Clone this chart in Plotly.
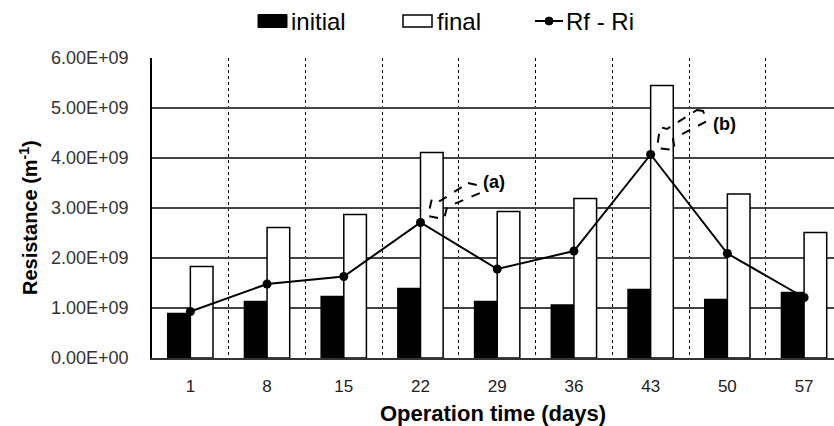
import plotly.graph_objects as go

days = ["1", "8", "15", "22", "29", "36", "43", "50", "57"]
initial = [0.89e9, 1.13e9, 1.23e9, 1.39e9, 1.13e9, 1.06e9, 1.37e9, 1.17e9, 1.31e9]
final = [1.83e9, 2.61e9, 2.87e9, 4.11e9, 2.93e9, 3.19e9, 5.45e9, 3.28e9, 2.51e9]
diff = [0.93e9, 1.48e9, 1.63e9, 2.71e9, 1.78e9, 2.14e9, 4.07e9, 2.09e9, 1.21e9]
ytick_vals = [0, 1e9, 2e9, 3e9, 4e9, 5e9, 6e9]
ytick_text = ["0.00E+00", "1.00E+09", "2.00E+09", "3.00E+09", "4.00E+09", "5.00E+09", "6.00E+09"]
series_names = ["initial", "final", "Rf - Ri"]

SANS = "Liberation Sans, Arial, sans-serif"

fig = go.Figure()
fig.add_trace(go.Bar(x=days, y=initial, name=series_names[0],
                     marker=dict(color="black", line=dict(color="black", width=1.5))))
fig.add_trace(go.Bar(x=days, y=final, name=series_names[1],
                     marker=dict(color="white", line=dict(color="black", width=1.5))))
fig.add_trace(go.Scatter(x=days, y=diff, name=series_names[2], mode="lines+markers",
                         line=dict(color="black", width=2),
                         marker=dict(color="black", size=9)))

# plot area in pixels: x 152..834, y 58..358
L, R, T, B = 152, 834, 58, 358
def px(x, y):
    return (x - L) / (R - L), (B - y) / (B - T)

def poly(points):
    pts = [px(x, y) for x, y in points]
    return "M " + " L ".join(f"{a:.4f},{b:.4f}" for a, b in pts) + " Z"

# dashed block arrows
arrow_a = [(468, 183), (477, 185), (480, 193), (447, 207), (444, 219), (428, 216), (432, 198), (440, 201)]
arrow_b = [(697, 110), (703, 111), (707, 121), (673, 139), (675, 150), (657, 148), (660, 127), (667, 129)]
for arr in (arrow_a, arrow_b):
    fig.add_shape(type="path", path=poly(arr), xref="paper", yref="paper",
                  line=dict(color="black", width=2, dash="dash"), fillcolor="rgba(0,0,0,0)")

for label, (x, y) in (("(a)", (481, 182)), ("(b)", (711, 112))):
    ax, ay = px(x, y)
    fig.add_annotation(x=ax, y=ay, xref="paper", yref="paper", text=f"<b>{label}</b>",
                       showarrow=False, xanchor="left",
                       font=dict(family=SANS, size=18, color="black"))

# legend (drawn manually to match wide rectangular keys)
ly = 21
x0, y0 = px(258, ly - 6.5); x1, y1 = px(287, ly + 6.5)
fig.add_shape(type="rect", xref="paper", yref="paper", x0=x0, x1=x1, y0=y0, y1=y1,
              fillcolor="black", line=dict(color="black", width=1))
x0, y0 = px(403, ly - 6); x1, y1 = px(432, ly + 6)
fig.add_shape(type="rect", xref="paper", yref="paper", x0=x0, x1=x1, y0=y0, y1=y1,
              fillcolor="white", line=dict(color="black", width=1.5))
x0, yy = px(535, ly); x1, _ = px(563, ly)
fig.add_shape(type="line", xref="paper", yref="paper", x0=x0, x1=x1, y0=yy, y1=yy,
              line=dict(color="black", width=2))
cx0, cy0 = px(545, ly - 4); cx1, cy1 = px(553, ly + 4)
fig.add_shape(type="circle", xref="paper", yref="paper", x0=cx0, x1=cx1, y0=cy0, y1=cy1,
              fillcolor="black", line=dict(color="black", width=1))
for name, tx in zip(series_names, (289, 435, 564)):
    ax, ay = px(tx, ly + 1)
    fig.add_annotation(x=ax, y=ay, xref="paper", yref="paper", text=name, showarrow=False,
                       xanchor="left", yanchor="middle",
                       font=dict(family=SANS, size=24, color="black"))

# y-axis title placed to match reference position
tx, ty = px(28, 218)
fig.add_annotation(x=tx, y=ty, xref="paper", yref="paper", textangle=-90,
                   text="<b>Resistance (m<sup>-1</sup>)</b>", showarrow=False,
                   xanchor="center", yanchor="middle",
                   font=dict(family=SANS, size=20, color="black"))

fig.update_layout(
    width=834, height=426,
    margin=dict(l=L, r=834 - R, t=T, b=426 - B),
    paper_bgcolor="white", plot_bgcolor="white",
    barmode="group", bargap=0.41, bargroupgap=0,
    showlegend=False,
    xaxis=dict(type="category", range=[-0.5, 8.39], tickson="boundaries",
               showgrid=True, gridcolor="black", griddash="dot", gridwidth=1,
               showline=True, linecolor="#333", linewidth=1.5,
               ticks="", ticklabelstandoff=12,
               tickfont=dict(family=SANS, size=17, color="#222"),
               title=dict(text="<b>Operation time (days)</b>", standoff=10,
                          font=dict(family=SANS, size=22, color="black"))),
    yaxis=dict(range=[0, 6e9], tickvals=ytick_vals, ticktext=ytick_text,
               showgrid=True, gridcolor="#444", gridwidth=1.5,
               showline=True, linecolor="black", linewidth=1.5, zeroline=False,
               ticks="", ticklabelstandoff=18,
               tickfont=dict(family=SANS, size=18, color="#333")),
)

fig.write_html("out.html")
